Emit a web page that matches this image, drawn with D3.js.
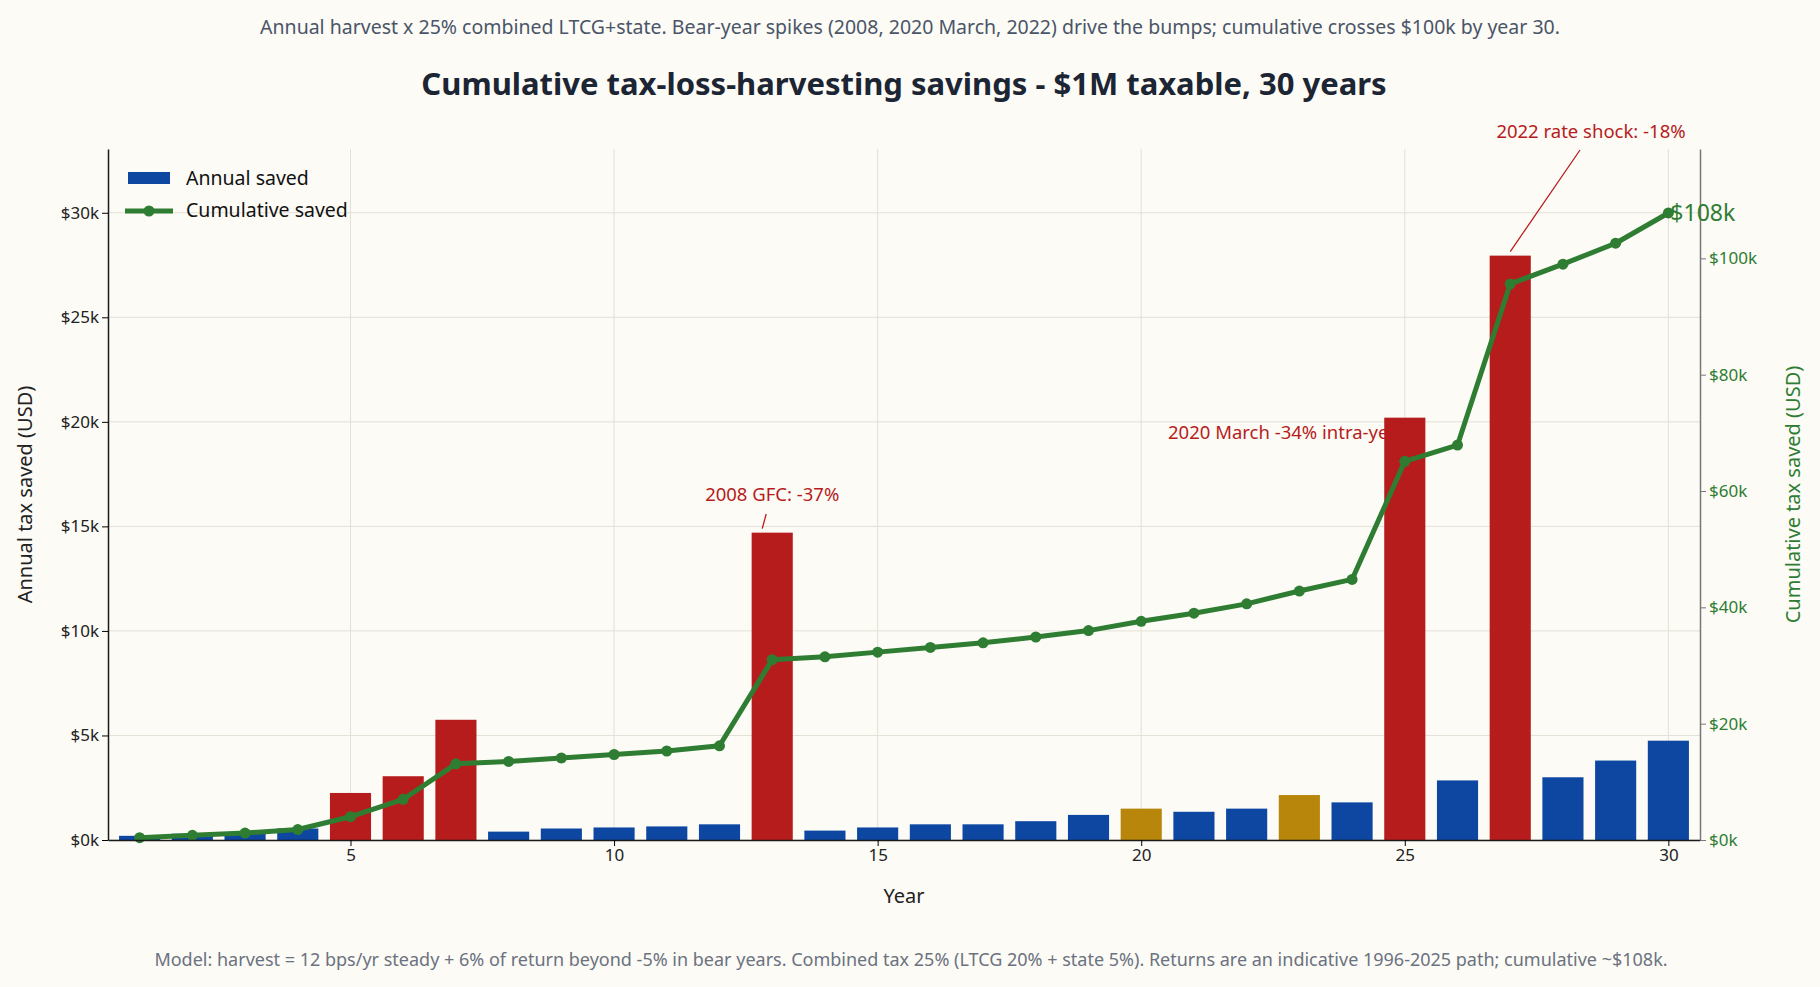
<!DOCTYPE html>
<html><head><meta charset="utf-8">
<script src="https://cdn.jsdelivr.net/npm/d3@7"></script>
<style>body{margin:0;background:#fcfbf6;}svg{font-family:"Noto Sans",sans-serif;}</style>
</head><body><svg id="c" width="1820" height="987"></svg>
<script>
const years = d3.range(1,31);
const annualK = [0.2,0.3,0.35,0.55,2.25,3.05,5.75,0.4,0.55,0.6,0.65,0.75,14.7,0.45,0.6,0.75,0.75,0.9,1.2,1.5,1.35,1.5,2.15,1.8,20.2,2.85,27.95,3.0,3.8,4.75];
const cumulativeK = [0.4,0.8,1.2,1.8,4.0,7.0,13.1,13.5,14.1,14.7,15.3,16.2,31.0,31.5,32.3,33.1,33.9,34.9,36.0,37.6,39.0,40.6,42.8,44.8,65.1,67.9,95.6,99.0,102.6,107.8];
const barKind = ["s","s","s","s","b","b","b","s","s","s","s","s","b","s","s","s","s","s","s","m","s","s","m","s","b","s","b","s","s","s"];
const leftTicks = [0,5,10,15,20,25,30];
const rightTicks = [0,20,40,60,80,100];
const xTicks = [5,10,15,20,25,30];
const colors = {s:"#0d47a1",b:"#b71c1c",m:"#b8860b"};
const green="#2e7d32", red="#b71c1c";

const svg=d3.select("#c");
const L=108,R=1700,T=149,B=840;
const x=d3.scaleLinear().domain([0.4,30.6]).range([L,R]);
const y=d3.scaleLinear().domain([0,33.05]).range([B,T]);
const y2=d3.scaleLinear().domain([0,118.8]).range([B,T]);
const bw=(x(1)-x(0))*0.78;

// grid
svg.append("g").selectAll("line").data(leftTicks).join("line")
 .attr("x1",L).attr("x2",R).attr("y1",d=>y(d)).attr("y2",d=>y(d)).attr("stroke","#e3e0d6").attr("stroke-width",1);
svg.append("g").selectAll("line").data(xTicks).join("line")
 .attr("y1",T).attr("y2",B).attr("x1",d=>x(d)).attr("x2",d=>x(d)).attr("stroke","#e3e0d6").attr("stroke-width",1);

// 2020 annotation text (under bars)
svg.append("text").attr("x",1168).attr("y",y(19.2)).attr("fill",red).attr("font-size",18.5).text("2020 March -34% intra-year");

// bars
svg.append("g").selectAll("rect").data(years).join("rect")
 .attr("x",d=>x(d)-bw/2).attr("width",bw)
 .attr("y",(d,i)=>y(annualK[i])).attr("height",(d,i)=>B-y(annualK[i]))
 .attr("fill",(d,i)=>colors[barKind[i]]);

// cumulative line
const line=d3.line().x((d,i)=>x(years[i])).y(d=>y2(d));
svg.append("path").datum(cumulativeK).attr("d",line).attr("fill","none").attr("stroke",green).attr("stroke-width",5).attr("stroke-linejoin","round");
svg.append("g").selectAll("circle").data(cumulativeK).join("circle")
 .attr("cx",(d,i)=>x(years[i])).attr("cy",d=>y2(d)).attr("r",5.5).attr("fill",green);

// axes
const ax=svg.append("g").attr("transform",`translate(0,${B})`).call(d3.axisBottom(x).tickValues(xTicks).tickSize(6).tickSizeOuter(0));
ax.select(".domain").attr("stroke","#1a1a1a").attr("stroke-width",1.5);
ax.selectAll("text").attr("font-size",17).attr("fill","#222").attr("font-family","Noto Sans");
const ay=svg.append("g").attr("transform",`translate(${L},0)`).call(d3.axisLeft(y).tickValues(leftTicks).tickFormat(d=>`$${d}k`).tickSize(6).tickSizeOuter(0));
ay.select(".domain").attr("stroke","#1a1a1a").attr("stroke-width",1.5);
ay.selectAll("text").attr("font-size",17).attr("fill","#222").attr("font-family","Noto Sans");
const ay2=svg.append("g").attr("transform",`translate(${R},0)`).call(d3.axisRight(y2).tickValues(rightTicks).tickFormat(d=>`$${d}k`).tickSize(6).tickSizeOuter(0));
ay2.select(".domain").attr("stroke","#777").attr("stroke-width",1.5);
ay2.selectAll("line").attr("stroke","#777");
ay2.selectAll("text").attr("font-size",17).attr("fill",green).attr("font-family","Noto Sans");

// axis labels
svg.append("text").attr("x",(L+R)/2).attr("y",903).attr("text-anchor","middle").attr("font-size",20).attr("fill","#222").text("Year");
svg.append("text").attr("transform",`translate(32,${(T+B)/2}) rotate(-90)`).attr("text-anchor","middle").attr("font-size",20).attr("fill","#222").text("Annual tax saved (USD)");
svg.append("text").attr("transform",`translate(1800,${(T+B)/2}) rotate(-90)`).attr("text-anchor","middle").attr("font-size",20).attr("fill",green).text("Cumulative tax saved (USD)");

// title etc
svg.append("text").attr("x",904).attr("y",95).attr("text-anchor","middle").attr("font-size",31).attr("font-weight","bold").attr("fill","#1c2533").text("Cumulative tax-loss-harvesting savings - $1M taxable, 30 years");
svg.append("text").attr("x",910).attr("y",34).attr("text-anchor","middle").attr("font-size",19.5).attr("fill","#4a5568").text("Annual harvest x 25% combined LTCG+state.  Bear-year spikes (2008, 2020 March, 2022) drive the bumps; cumulative crosses $100k by year 30.");
svg.append("text").attr("x",911).attr("y",966).attr("text-anchor","middle").attr("font-size",18).attr("fill","#6b7280").text("Model: harvest = 12 bps/yr steady + 6% of return beyond -5% in bear years.  Combined tax 25% (LTCG 20% + state 5%).  Returns are an indicative 1996-2025 path; cumulative ~$108k.");

// annotations
svg.append("text").attr("x",x(13)-nudge(0)).attr("y",501).attr("text-anchor","middle").attr("fill",red).attr("font-size",18.5).text("2008 GFC: -37%");
function nudge(v){return v;}
svg.append("line").attr("x1",x(13)-6).attr("y1",514).attr("x2",x(13)-10).attr("y2",y(14.7)-4).attr("stroke",red).attr("stroke-width",1.3);
svg.append("text").attr("x",1591).attr("y",138).attr("text-anchor","middle").attr("fill",red).attr("font-size",18.5).text("2022 rate shock: -18%");
svg.append("line").attr("x1",1580).attr("y1",150).attr("x2",x(27)).attr("y2",y(27.95)-4).attr("stroke",red).attr("stroke-width",1.3);
svg.append("text").attr("x",x(30)+2).attr("y",y2(107.8)+8).attr("fill",green).attr("font-size",23).text("$108k");

// legend
svg.append("rect").attr("x",128).attr("y",172).attr("width",42).attr("height",12).attr("fill",colors.s);
svg.append("text").attr("x",186).attr("y",185).attr("font-size",19.5).attr("fill","#111").text("Annual saved");
svg.append("line").attr("x1",125).attr("x2",173).attr("y1",211).attr("y2",211).attr("stroke",green).attr("stroke-width",5);
svg.append("circle").attr("cx",149).attr("cy",211).attr("r",5.5).attr("fill",green);
svg.append("text").attr("x",186).attr("y",217).attr("font-size",19.5).attr("fill","#111").text("Cumulative saved");
</script></body></html>
